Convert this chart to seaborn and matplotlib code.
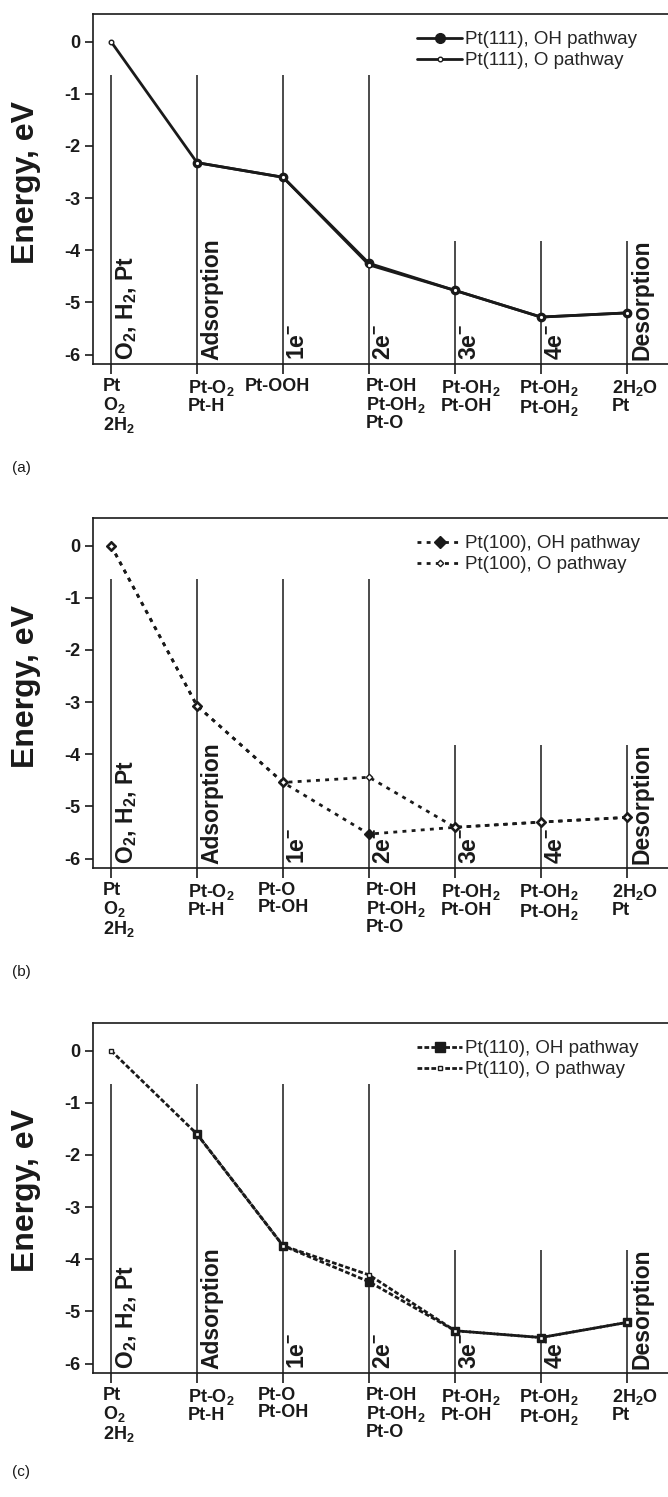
import numpy as np
import pandas as pd
import matplotlib
matplotlib.use("Agg")
import matplotlib.pyplot as plt
import matplotlib.transforms as mtransforms
from matplotlib.lines import Line2D
import seaborn as sns

sns.set_theme(style="ticks")
plt.rcParams["font.family"] = ["Liberation Sans", "DejaVu Sans"]
plt.rcParams["font.weight"] = "bold"
plt.rcParams["mathtext.fontset"] = "custom"
plt.rcParams["mathtext.rm"] = "Liberation Sans:bold"
plt.rcParams["mathtext.it"] = "Liberation Sans:italic:bold"
plt.rcParams["mathtext.bf"] = "Liberation Sans:bold"
plt.rcParams["axes.unicode_minus"] = False

# ---- data -------------------------------------------------------------
steps = [0, 1, 2, 3, 4, 5, 6]
step_names = ["O$_2$, H$_2$, Pt", "Adsorption", "1e$^{-}$", "2e$^{-}$",
              "3e$^{-}$", "4e$^{-}$", "Desorption"]
step_line_tops = [-0.63, -0.63, -0.63, -0.63, -3.82, -3.82, -3.82]

species_111 = [["Pt", "O$_2$", "2H$_2$"], ["Pt-O$_2$", "Pt-H"], ["Pt-OOH"],
               ["Pt-OH", "Pt-OH$_2$", "Pt-O"], ["Pt-OH$_2$", "Pt-OH"],
               ["Pt-OH$_2$", "Pt-OH$_2$"], ["2H$_2$O", "Pt"]]
species_100 = [["Pt", "O$_2$", "2H$_2$"], ["Pt-O$_2$", "Pt-H"], ["Pt-O", "Pt-OH"],
               ["Pt-OH", "Pt-OH$_2$", "Pt-O"], ["Pt-OH$_2$", "Pt-OH"],
               ["Pt-OH$_2$", "Pt-OH$_2$"], ["2H$_2$O", "Pt"]]
species_110 = species_100

y_ticks = [0, -1, -2, -3, -4, -5, -6]

pt111_oh = [np.nan, -2.32, -2.60, -4.25, -4.77, -5.28, -5.20]
pt111_o = [0.0, -2.32, -2.60, -4.28, -4.77, -5.28, -5.20]
pt100_oh = [0.0, -3.07, -4.54, -5.53, -5.40, -5.30, -5.21]
pt100_o = [0.0, -3.07, -4.54, -4.44, -5.40, -5.30, -5.21]
pt110_oh = [np.nan, -1.60, -3.74, -4.43, -5.37, -5.50, -5.21]
pt110_o = [0.0, -1.60, -3.74, -4.30, -5.37, -5.50, -5.21]

# ---- figure -----------------------------------------------------------
W, H = 668, 1497
fig = plt.figure(figsize=(W / 100, H / 100), dpi=100)

XLIM = (-0.21, 6.50)
YLIM = (-6.18, 0.53)
ax_left, ax_w, ax_h = 93, 577, 350

panels = [
    dict(top=14, tag="(a)", tag_y=468, surface="Pt(111)", marker="o",
         ms_big=6.0, ls="-", oh=pt111_oh, o=pt111_o, species=species_111,
         offsets=[-8, -9, -38, -3, -14, -22, -15]),
    dict(top=518, tag="(b)", tag_y=972, surface="Pt(100)", marker="D",
         ms_big=5.5, ls=(0, (1.4, 1.9)), oh=pt100_oh, o=pt100_o, species=species_100,
         offsets=[-8, -9, -25, -3, -14, -22, -15]),
    dict(top=1023, tag="(c)", tag_y=1472, surface="Pt(110)", marker="s",
         ms_big=5.5, ls=(0, (1.7, 0.8)), oh=pt110_oh, o=pt110_o, species=species_110,
         offsets=[-8, -9, -25, -3, -14, -22, -15]),
]

LW = 2.0
for p in panels:
    ax = fig.add_axes([ax_left / W, 1 - (p["top"] + ax_h) / H, ax_w / W, ax_h / H])
    ax.set_xlim(*XLIM)
    ax.set_ylim(*YLIM)

    # step separators and their vertical captions
    ax.vlines(steps, YLIM[0], step_line_tops, color="k", lw=1.1)
    for s, name in zip(steps, step_names):
        ax.text(s + 0.04, YLIM[0] + 0.07, name, rotation=90, ha="left", va="bottom",
                fontsize=16.5, color="k", fontweight="bold")

    df = pd.DataFrame({"step": steps * 2,
                       "energy": p["oh"] + p["o"],
                       "pathway": ["OH"] * 7 + ["O"] * 7}).dropna()
    oh = df[df.pathway == "OH"]
    o = df[df.pathway == "O"]

    sns.lineplot(data=oh, x="step", y="energy", ax=ax, color="k", lw=LW,
                 linestyle=p["ls"], marker=p["marker"], markersize=p["ms_big"],
                 markerfacecolor="k", markeredgecolor="k", markeredgewidth=1.0,
                 legend=False)
    sns.lineplot(data=o, x="step", y="energy", ax=ax, color="k", lw=LW,
                 linestyle=p["ls"], marker=p["marker"], markersize=3.3,
                 markerfacecolor="white", markeredgecolor="k", markeredgewidth=1.0,
                 legend=False)

    handles = [
        Line2D([], [], color="k", lw=LW, ls=p["ls"], marker=p["marker"],
               ms=7 if p["marker"] == "o" else 6.5, mfc="k", mec="k"),
        Line2D([], [], color="k", lw=LW, ls=p["ls"], marker=p["marker"],
               ms=3.3, mfc="white", mec="k", mew=1.0),
    ]
    labels = [f"{p['surface']}, OH pathway", f"{p['surface']}, O pathway"]
    ax.legend(handles, labels, loc="upper left",
              bbox_to_anchor=((417 - ax_left) / ax_w, 1 - 17 / ax_h),
              frameon=False, handlelength=2.4, handletextpad=0.15,
              borderpad=0, borderaxespad=0, labelspacing=0.22, numpoints=1,
              prop={"size": 13.5, "weight": "normal"})

    # axes styling
    for sp in ax.spines.values():
        sp.set_color("k")
        sp.set_linewidth(1.2)
    ax.set_yticks(y_ticks)
    ax.set_yticklabels([str(t) for t in y_ticks])
    ax.set_xticks(steps)
    ax.set_xticklabels(["\n".join(lines) for lines in p["species"]])
    ax.tick_params(axis="both", direction="out", length=6, width=1.2, color="k",
                   labelsize=13, labelcolor="k", pad=3)
    ax.tick_params(axis="x", length=7)
    for lab, dx in zip(ax.get_xticklabels(), p["offsets"]):
        lab.set_horizontalalignment("left")
        lab.set_verticalalignment("top")
        lab.set_linespacing(1.0)
        lab.set_fontweight("bold")
        lab.set_transform(lab.get_transform() +
                          mtransforms.ScaledTranslation(dx / 100, 0, fig.dpi_scale_trans))
    for lab in ax.get_yticklabels():
        lab.set_fontweight("bold")

    ax.set_xlabel("")
    ax.set_ylabel("Energy, eV", fontsize=23, color="k", va="center",
                  fontweight="bold")
    ax.yaxis.set_label_coords((26 - ax_left) / ax_w, 0.52)

    fig.text(12 / W, 1 - p["tag_y"] / H, p["tag"], fontsize=11, color="k",
             ha="left", va="center", fontweight="normal")

fig.savefig("out.png", dpi=100)
